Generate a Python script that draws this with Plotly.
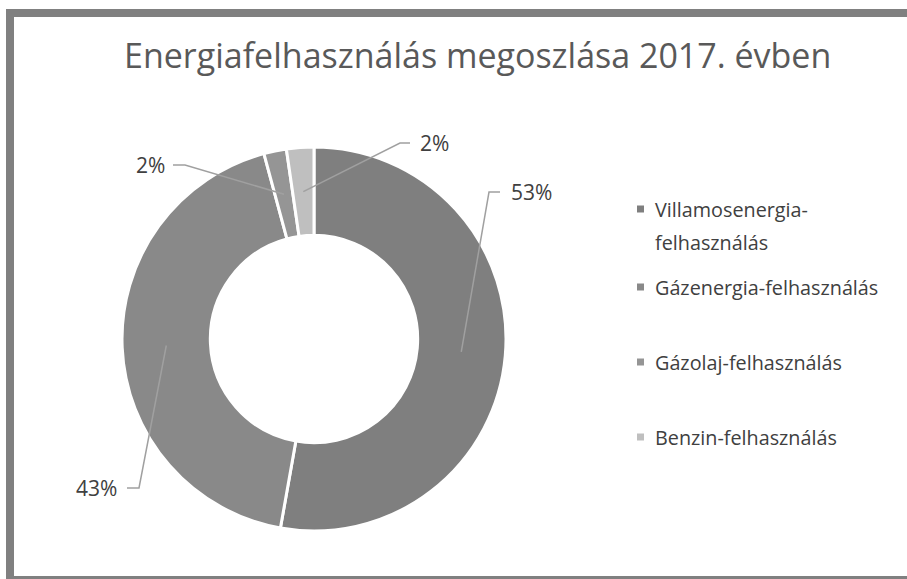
import math
import plotly.graph_objects as go

# ---- data ----
categories = ["Villamosenergia-felhasználás", "Gázenergia-felhasználás",
              "Gázolaj-felhasználás", "Benzin-felhasználás"]
legend_lines = [["Villamosenergia-", "felhasználás"], ["Gázenergia-felhasználás"],
                ["Gázolaj-felhasználás"], ["Benzin-felhasználás"]]
values = [52.8, 43.0, 1.9, 2.3]
colors = ["#7f7f7f", "#898989", "#959595", "#bfbfbf"]
title_text = "Energiafelhasználás megoszlása 2017. évben"

# ---- layout (pixels) ----
W, H = 907, 579
CX, CY, R = 314, 339, 192
HOLE = 0.54
# label text centre (x, y), line start x, elbow x
label_layout = [
    (531, 192, 500, 489),
    (96, 488, 127, 139),
    (150, 165, 173, 185),
    (434, 143, 410, 400),
]
legend_x, legend_ys, legend_line_gap = 653, [209, 287, 362, 437], 33


def px(x):
    return x / W


def py(y):
    return 1 - y / H


fig = go.Figure()
fig.add_trace(go.Pie(
    labels=categories, values=values, sort=False, direction="clockwise",
    rotation=0, hole=HOLE, textinfo="none", hoverinfo="label+percent",
    marker=dict(colors=colors, line=dict(color="white", width=3)),
    domain=dict(x=[px(CX - R), px(CX + R)], y=[py(CY + R), py(CY - R)]),
    showlegend=False,
))

shapes = []
annotations = []
total = sum(values)
mid_r = R * (1 + HOLE) / 2
cum = 0.0
for i, v in enumerate(values):
    mid = (cum + v / 2) / total * 2 * math.pi
    cum += v
    ax = CX + mid_r * math.sin(mid)
    ay = CY - mid_r * math.cos(mid)
    tx, ty, lx, ex = label_layout[i]
    path = f"M {px(lx)} {py(ty)} L {px(ex)} {py(ty)} L {px(ax)} {py(ay)}"
    shapes.append(dict(type="path", path=path, xref="paper", yref="paper",
                       line=dict(color="#a0a0a0", width=1.5)))
    annotations.append(dict(
        x=px(tx), y=py(ty), xref="paper", yref="paper", showarrow=False,
        text=f"{round(v / total * 100)}%", xanchor="center", yanchor="middle",
        font=dict(family="Open Sans", size=21, color="#404040")))

# legend drawn manually
for i, lines in enumerate(legend_lines):
    y = legend_ys[i]
    shapes.append(dict(type="rect", xref="paper", yref="paper",
                       x0=px(637), x1=px(644), y0=py(y + 3.5), y1=py(y - 3.5),
                       fillcolor=colors[i], line=dict(width=0)))
    for j, line in enumerate(lines):
        annotations.append(dict(
            x=px(legend_x), y=py(y + j * legend_line_gap), xref="paper", yref="paper",
            showarrow=False, text=line, xanchor="left", yanchor="middle", align="left",
            font=dict(family="Open Sans", size=19.8, color="#404040")))

# title
annotations.append(dict(
    x=px(477), y=py(55), xref="paper", yref="paper", showarrow=False,
    text=title_text, xanchor="center", yanchor="middle",
    font=dict(family="Open Sans", size=34, color="#595959")))

# outer frame
shapes.append(dict(type="rect", xref="paper", yref="paper",
                   x0=px(10), x1=px(915), y0=py(580), y1=py(13),
                   line=dict(color="#808080", width=8), fillcolor="rgba(0,0,0,0)"))
shapes.append(dict(type="rect", xref="paper", yref="paper",
                   x0=px(6), x1=px(907), y0=py(579), y1=py(576),
                   fillcolor="#808080", line=dict(width=0)))

fig.update_layout(
    width=W, height=H, margin=dict(l=0, r=0, t=0, b=0),
    paper_bgcolor="white", plot_bgcolor="white",
    shapes=shapes, annotations=annotations, showlegend=False,
)
fig.write_html("out.html", config={"displayModeBar": False},
               post_script="document.body.style.margin='0';")
